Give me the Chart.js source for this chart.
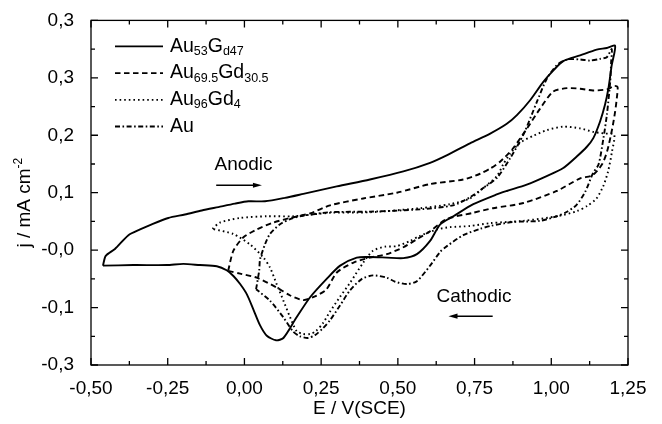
<!DOCTYPE html>
<html>
<head>
<meta charset="utf-8">
<script src="https://cdn.jsdelivr.net/npm/chart.js@4.4.1/dist/chart.umd.min.js"></script>
<style>
  html, body { margin: 0; padding: 0; background: #fff; }
</style>
</head>
<body>
<canvas id="graficoCV" width="662" height="424"></canvas>
<script>
// Au53Gd47 (linha cheia)
const au53E = [-0.461,-0.452,-0.422,-0.378,-0.340,-0.302,-0.248,-0.194,-0.139,-0.085,-0.031,0.013,0.067,0.132,0.192,0.301,0.409,0.518,0.605,0.659,0.735,0.801,0.855,0.888,0.931,0.974,1.007,1.039,1.094,1.148,1.181,1.208,1.197,1.186,1.175,1.159,1.137,1.116,1.083,1.039,0.985,0.920,0.855,0.822,0.746,0.681,0.638,0.605,0.562,0.518,0.464,0.409,0.366,0.312,0.268,0.214,0.170,0.127,0.103,0.073,0.051,0.029,0.008,-0.014,-0.036,-0.058,-0.090,-0.145,-0.199,-0.253,-0.362,-0.461];
const au53J = [-0.077,-0.060,-0.048,-0.024,-0.014,-0.005,0.006,0.012,0.019,0.025,0.031,0.035,0.035,0.041,0.048,0.061,0.073,0.087,0.102,0.115,0.136,0.153,0.170,0.185,0.211,0.243,0.263,0.279,0.289,0.299,0.302,0.306,0.272,0.231,0.203,0.174,0.145,0.130,0.113,0.093,0.079,0.064,0.053,0.047,0.030,0.009,-0.005,-0.034,-0.057,-0.064,-0.063,-0.062,-0.063,-0.077,-0.100,-0.132,-0.167,-0.203,-0.207,-0.199,-0.181,-0.153,-0.127,-0.109,-0.095,-0.085,-0.078,-0.076,-0.074,-0.076,-0.076,-0.077];

// Au69.5Gd30.5 (tracejada)
const au69E = [-0.053,-0.036,-0.004,0.040,0.094,0.149,0.214,0.279,0.387,0.497,0.605,0.713,0.768,0.801,0.833,0.875,0.921,0.963,1.006,1.051,1.094,1.136,1.182,1.205,1.216,1.214,1.208,1.198,1.182,1.165,1.133,1.094,1.018,0.909,0.810,0.745,0.659,0.605,0.562,0.518,0.464,0.409,0.354,0.301,0.266,0.224,0.191,0.149,0.105,0.040,-0.014,-0.053];
const au69J = [-0.086,-0.051,-0.028,-0.014,-0.002,0.006,0.014,0.028,0.040,0.050,0.065,0.073,0.083,0.092,0.104,0.127,0.162,0.196,0.226,0.232,0.231,0.228,0.230,0.236,0.234,0.217,0.191,0.160,0.122,0.099,0.080,0.075,0.053,0.032,0.023,0.015,0.004,-0.017,-0.031,-0.045,-0.057,-0.063,-0.072,-0.089,-0.119,-0.132,-0.137,-0.129,-0.115,-0.098,-0.091,-0.086];

// Au96Gd4 (pontilhada)
const au96E = [-0.104,-0.080,-0.014,0.073,0.159,0.279,0.409,0.572,0.670,0.735,0.778,0.823,0.843,0.866,0.898,0.941,0.986,1.038,1.094,1.136,1.175,1.205,1.198,1.185,1.169,1.146,1.117,1.084,1.019,0.908,0.801,0.735,0.670,0.628,0.572,0.540,0.497,0.458,0.419,0.387,0.344,0.312,0.279,0.256,0.233,0.214,0.191,0.170,0.149,0.127,0.105,0.083,0.062,0.018,-0.036,-0.104];
const au96J = [-0.013,-0.002,0.006,0.009,0.009,0.015,0.016,0.023,0.030,0.040,0.058,0.079,0.099,0.118,0.137,0.149,0.159,0.165,0.162,0.156,0.153,0.151,0.122,0.087,0.061,0.039,0.027,0.018,0.009,0.001,-0.003,-0.008,-0.010,-0.014,-0.025,-0.034,-0.043,-0.044,-0.051,-0.072,-0.107,-0.131,-0.157,-0.177,-0.191,-0.196,-0.196,-0.191,-0.167,-0.138,-0.109,-0.080,-0.063,-0.040,-0.022,-0.013];

// Au (traço-ponto)
const auE = [0.038,0.048,0.051,0.067,0.083,0.116,0.149,0.181,0.279,0.409,0.572,0.680,0.735,0.778,0.823,0.866,0.909,0.953,0.985,1.018,1.051,1.094,1.126,1.159,1.181,1.197,1.195,1.192,1.181,1.170,1.154,1.136,1.110,1.081,1.048,1.018,0.963,0.875,0.801,0.768,0.713,0.660,0.638,0.605,0.562,0.529,0.491,0.464,0.419,0.383,0.344,0.312,0.279,0.256,0.230,0.207,0.181,0.159,0.127,0.083,0.038];
const auJ = [-0.118,-0.086,-0.066,-0.040,-0.022,-0.005,0.004,0.009,0.016,0.017,0.021,0.028,0.042,0.058,0.076,0.110,0.151,0.208,0.248,0.272,0.282,0.282,0.280,0.283,0.286,0.300,0.277,0.243,0.185,0.145,0.099,0.084,0.051,0.028,0.016,0.009,0.001,-0.001,-0.008,-0.013,-0.024,-0.043,-0.053,-0.077,-0.104,-0.109,-0.105,-0.098,-0.094,-0.100,-0.120,-0.146,-0.172,-0.186,-0.198,-0.203,-0.200,-0.192,-0.167,-0.138,-0.118];

const xTickVals = [-0.5, -0.25, 0, 0.25, 0.5, 0.75, 1.0, 1.25];
const xTickLabels = ["-0,50", "-0,25", "0,00", "0,25", "0,50", "0,75", "1,00", "1,25"];
const yTickVals = [-0.25, -0.15, -0.05, 0.05, 0.15, 0.25, 0.35];
const yTickLabels = ["-0,3", "-0,1", "-0,0", "0,1", "0,2", "0,3", "0,3"];

const legendas = [
  [["Au", ""], ["53", "sub"], ["G", ""], ["d47", "sub"]],
  [["Au", ""], ["69.5", "sub"], ["Gd", ""], ["30.5", "sub"]],
  [["Au", ""], ["96", "sub"], ["Gd", ""], ["4", "sub"]],
  [["Au", ""]]
];
const tracos = [[], [5.5, 3.5], [1.6, 3], [5, 2.5, 1.6, 2.5]];

const fonte = "'Liberation Sans', Arial, sans-serif";

const pontos = (xs, ys) => xs.map((x, i) => ({ x, y: ys[i] }));

function escreve(ctx, partes, x0, y0, tam, tamSub) {
  let cx = x0;
  for (const [t, tipo] of partes) {
    if (tipo === "sub") {
      ctx.font = `${tamSub}px ${fonte}`;
      ctx.fillText(t, cx, y0 + 5);
    } else if (tipo === "sup") {
      ctx.font = `${tamSub}px ${fonte}`;
      ctx.fillText(t, cx, y0 - 6);
    } else {
      ctx.font = `${tam}px ${fonte}`;
      ctx.fillText(t, cx, y0);
    }
    cx += ctx.measureText(t).width;
  }
  return cx - x0;
}

function largura(ctx, partes, tam, tamSub) {
  let w = 0;
  for (const [t, tipo] of partes) {
    ctx.font = `${tipo ? tamSub : tam}px ${fonte}`;
    w += ctx.measureText(t).width;
  }
  return w;
}

function seta(ctx, x1, x2, y) {
  const dir = Math.sign(x2 - x1);
  ctx.beginPath();
  ctx.moveTo(x1, y);
  ctx.lineTo(x2 - dir * 6, y);
  ctx.stroke();
  ctx.beginPath();
  ctx.moveTo(x2, y);
  ctx.lineTo(x2 - dir * 9, y - 2.6);
  ctx.lineTo(x2 - dir * 9, y + 2.6);
  ctx.closePath();
  ctx.fill();
}

const molduraPlugin = {
  id: "moldura",
  afterDraw(chart) {
    const { ctx, chartArea: a, scales: { x, y } } = chart;
    ctx.save();
    ctx.strokeStyle = "#000";
    ctx.fillStyle = "#000";
    ctx.setLineDash([]);
    ctx.lineWidth = 1.3;
    ctx.strokeRect(a.left, a.top, a.right - a.left, a.bottom - a.top);

    // marcas para dentro nos quatro lados
    ctx.beginPath();
    xTickVals.forEach((v, i) => {
      const px = x.getPixelForValue(v);
      ctx.moveTo(px, a.bottom); ctx.lineTo(px, a.bottom - 7);
      ctx.moveTo(px, a.top); ctx.lineTo(px, a.top + 7);
      if (i < xTickVals.length - 1) {
        const pm = x.getPixelForValue((v + xTickVals[i + 1]) / 2);
        ctx.moveTo(pm, a.bottom); ctx.lineTo(pm, a.bottom - 4);
        ctx.moveTo(pm, a.top); ctx.lineTo(pm, a.top + 4);
      }
    });
    yTickVals.forEach((v, i) => {
      const py = y.getPixelForValue(v);
      ctx.moveTo(a.left, py); ctx.lineTo(a.left + 7, py);
      ctx.moveTo(a.right, py); ctx.lineTo(a.right - 7, py);
      if (i < yTickVals.length - 1) {
        const pm = y.getPixelForValue((v + yTickVals[i + 1]) / 2);
        ctx.moveTo(a.left, pm); ctx.lineTo(a.left + 4, pm);
        ctx.moveTo(a.right, pm); ctx.lineTo(a.right - 4, pm);
      }
    });
    ctx.stroke();

    // legenda
    ctx.textBaseline = "middle";
    ctx.textAlign = "left";
    legendas.forEach((partes, i) => {
      const ly = a.top + 26 + i * 26.7;
      ctx.lineWidth = 1.8;
      ctx.setLineDash(tracos[i]);
      ctx.beginPath();
      ctx.moveTo(a.left + 24, ly);
      ctx.lineTo(a.left + 72, ly);
      ctx.stroke();
      ctx.setLineDash([]);
      escreve(ctx, partes, a.left + 79, ly, 19.5, 12.5);
    });

    // Anodic / Cathodic
    ctx.lineWidth = 1.5;
    ctx.textAlign = "center";
    ctx.font = `19px ${fonte}`;
    ctx.fillText("Anodic", x.getPixelForValue(-0.003), y.getPixelForValue(0.099));
    seta(ctx, x.getPixelForValue(-0.092), x.getPixelForValue(0.057), y.getPixelForValue(0.063));
    ctx.fillText("Cathodic", x.getPixelForValue(0.748), y.getPixelForValue(-0.132));
    seta(ctx, x.getPixelForValue(0.809), x.getPixelForValue(0.665), y.getPixelForValue(-0.165));

    // títulos dos eixos
    ctx.font = `19px ${fonte}`;
    ctx.fillText("E / V(SCE)", (a.left + a.right) / 2, 409);

    const tituloY = [["j / mA cm", ""], ["-2", "sup"]];
    ctx.translate(25, (a.top + a.bottom) / 2 + 10);
    ctx.rotate(-Math.PI / 2);
    ctx.textAlign = "left";
    const w = largura(ctx, tituloY, 19, 12);
    escreve(ctx, tituloY, -w / 2, 0, 19, 12);
    ctx.restore();
  }
};

const serie = (label, xs, ys, dash) => ({
  label,
  data: pontos(xs, ys),
  showLine: true,
  borderColor: "#000",
  borderWidth: 1.9,
  borderDash: dash,
  pointRadius: 0,
  tension: 0.25,
  fill: false
});

new Chart(document.getElementById("graficoCV").getContext("2d"), {
  type: "scatter",
  data: {
    datasets: [
      serie("Au53Gd47", au53E, au53J, tracos[0]),
      serie("Au69.5Gd30.5", au69E, au69J, tracos[1]),
      serie("Au96Gd4", au96E, au96J, tracos[2]),
      serie("Au", auE, auJ, tracos[3])
    ]
  },
  options: {
    responsive: false,
    animation: false,
    devicePixelRatio: 1,
    layout: { padding: { top: 18, right: 34, left: 0, bottom: 0 } },
    plugins: { legend: { display: false }, tooltip: { enabled: false } },
    scales: {
      x: {
        type: "linear",
        min: -0.5,
        max: 1.25,
        grid: { display: false },
        border: { display: false },
        afterBuildTicks: s => { s.ticks = xTickVals.map(value => ({ value })); },
        afterFit: s => { s.height = 59; },
        ticks: {
          padding: 4,
          color: "#000",
          font: { family: fonte, size: 19 },
          maxRotation: 0,
          autoSkip: false,
          callback: (v, i) => xTickLabels[i]
        }
      },
      y: {
        type: "linear",
        min: -0.25,
        max: 0.35,
        grid: { display: false },
        border: { display: false },
        afterBuildTicks: s => { s.ticks = yTickVals.map(value => ({ value })); },
        afterFit: s => { s.width = 91; },
        ticks: {
          padding: 9,
          color: "#000",
          font: { family: fonte, size: 19 },
          autoSkip: false,
          callback: (v, i) => yTickLabels[i]
        }
      }
    }
  },
  plugins: [molduraPlugin]
});
</script>
</body>
</html>
